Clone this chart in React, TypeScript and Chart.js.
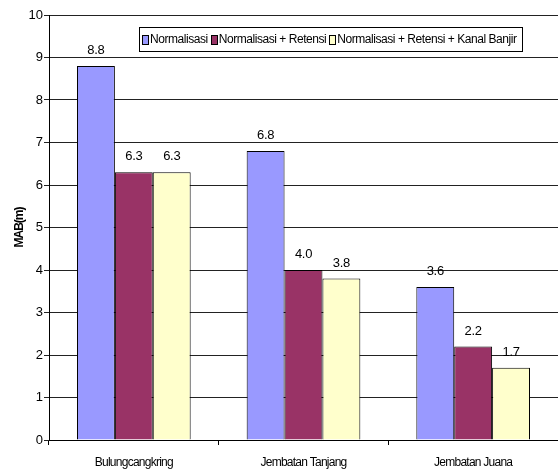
import React, { useEffect, useRef } from 'react';
import { Chart, registerables } from 'chart.js';

Chart.register(...registerables);

const categories = ['Bulungcangkring', 'Jembatan Tanjang', 'Jembatan Juana'];
const seriesNames = ['Normalisasi', 'Normalisasi + Retensi', 'Normalisasi + Retensi + Kanal Banjir'];
const normalisasi = [8.8, 6.8, 3.6];
const normalisasiRetensi = [6.3, 4.0, 2.2];
const normalisasiRetensiKanal = [6.3, 3.8, 1.7];
const seriesColors = ['#9999FF', '#993366', '#FFFFCC'];
const yMin = 0;
const yMax = 10;
const yStep = 1;
const yTitle = 'MAB(m)';

const FONT = "'Liberation Sans', Arial, sans-serif";

// Run a scale drawing method with tighter letter spacing (condensed look)
function tighten(scale: any, method: string, spacing: string) {
  if (scale[`__tight_${method}`]) return;
  const orig = scale[method].bind(scale);
  scale[method] = (...args: any[]) => {
    const ctx = scale.ctx;
    ctx.save();
    ctx.letterSpacing = spacing;
    orig(...args);
    ctx.restore();
  };
  scale[`__tight_${method}`] = true;
}

// Value printed above every bar
const valueLabels = {
  id: 'valueLabels',
  afterDatasetsDraw(chart: any) {
    const ctx = chart.ctx;
    ctx.save();
    ctx.font = `13px ${FONT}`;
    ctx.letterSpacing = '-0.3px';
    ctx.fillStyle = '#000';
    ctx.textAlign = 'center';
    ctx.textBaseline = 'alphabetic';
    chart.data.datasets.forEach((ds: any, i: number) => {
      const meta = chart.getDatasetMeta(i);
      meta.data.forEach((bar: any, j: number) => {
        ctx.fillText(Number(ds.data[j]).toFixed(1), bar.x, bar.y - 12);
      });
    });
    ctx.restore();
  },
};

// Boxed legend placed inside the plot area, near its top
const boxedLegend = {
  id: 'boxedLegend',
  afterDraw(chart: any) {
    const ctx = chart.ctx;
    const area = chart.chartArea;
    ctx.save();
    ctx.font = `12px ${FONT}`;
    ctx.letterSpacing = '-0.45px';
    const left = Math.round(area.left + 90);
    const top = Math.round(area.top + 12);
    const h = 24;
    const sw = 6;
    const sh = 9;
    let x = left + 3;
    const items: { x: number; w: number }[] = [];
    chart.data.datasets.forEach((ds: any) => {
      const w = ctx.measureText(ds.label).width;
      items.push({ x, w });
      x += sw + 2 + w + 3;
    });
    const boxW = Math.round(x - left + 2);
    ctx.fillStyle = '#fff';
    ctx.fillRect(left, top, boxW, h);
    ctx.strokeStyle = '#000';
    ctx.lineWidth = 1;
    ctx.strokeRect(left + 0.5, top + 0.5, boxW, h);
    ctx.textBaseline = 'middle';
    ctx.textAlign = 'left';
    chart.data.datasets.forEach((ds: any, i: number) => {
      const it = items[i];
      const sy = Math.round(top + h / 2 - sh / 2) + 0.5;
      const sx = Math.round(it.x) + 0.5;
      ctx.fillStyle = ds.backgroundColor;
      ctx.fillRect(sx, sy, sw, sh);
      ctx.strokeStyle = '#000';
      ctx.strokeRect(sx, sy, sw, sh);
      ctx.fillStyle = '#000';
      ctx.fillText(ds.label, it.x + sw + 2, top + h / 2 + 1);
    });
    ctx.restore();
  },
};

export default function App() {
  const canvasRef = useRef<HTMLCanvasElement>(null);

  useEffect(() => {
    const canvas = canvasRef.current;
    if (!canvas) return;
    const seriesValues = [normalisasi, normalisasiRetensi, normalisasiRetensiKanal];
    const chart = new Chart(canvas, {
      type: 'bar',
      data: {
        labels: categories,
        datasets: seriesNames.map((name, i) => ({
          label: name,
          data: seriesValues[i],
          backgroundColor: seriesColors[i],
          borderColor: '#000',
          borderWidth: 1,
          categoryPercentage: 0.67,
          barPercentage: 1,
        })),
      },
      options: {
        responsive: false,
        animation: false,
        devicePixelRatio: 1,
        layout: { padding: { top: 15, right: 0, bottom: 0, left: 0 } },
        plugins: {
          legend: { display: false },
          tooltip: { enabled: false },
        },
        scales: {
          x: {
            grid: {
              offset: true,
              drawOnChartArea: false,
              drawTicks: true,
              tickLength: 5,
              color: '#000',
            },
            border: { color: '#000', width: 1 },
            ticks: {
              color: '#000',
              font: { family: FONT, size: 12 },
              padding: 10,
              maxRotation: 0,
            },
            afterFit: (s: any) => {
              s.height = 34;
            },
            afterUpdate: (s: any) => tighten(s, 'drawLabels', '-0.75px'),
          },
          y: {
            min: yMin,
            max: yMax,
            ticks: {
              stepSize: yStep,
              color: '#000',
              font: { family: FONT, size: 13 },
              padding: 1,
            },
            grid: {
              color: '#222',
              lineWidth: 1,
              tickLength: 5,
            },
            border: { color: '#000', width: 1 },
            title: {
              display: true,
              text: yTitle,
              color: '#000',
              font: { family: FONT, size: 12, weight: 'bold' },
              padding: { top: 12, bottom: 0 },
            },
            afterFit: (s: any) => {
              s.width = 49;
            },
            afterUpdate: (s: any) => tighten(s, 'drawTitle', '-1px'),
          },
        },
      },
      plugins: [valueLabels, boxedLegend],
    });
    return () => chart.destroy();
  }, []);

  return (
    <div style={{ position: 'fixed', left: 0, top: 0, width: 558, height: 474, background: '#fff' }}>
      <canvas ref={canvasRef} width={558} height={474} style={{ display: 'block' }} />
    </div>
  );
}
